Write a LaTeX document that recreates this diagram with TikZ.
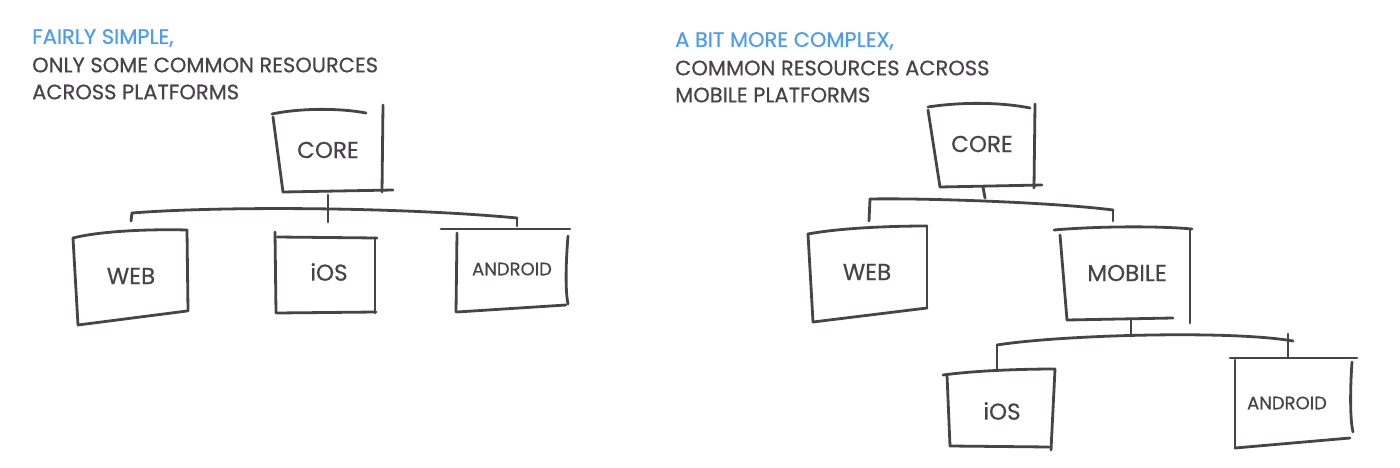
\documentclass[tikz,border=0pt]{standalone}
\usepackage{fontspec}
\setmainfont{Poppins}[FakeBold=0.5]
\definecolor{ink}{HTML}{48434A}
\definecolor{skyblue}{HTML}{4A9DF2}
\begin{document}
\begin{tikzpicture}[x=1pt,y=-1pt,
  pen/.style={draw=ink,line width=2.8pt,line cap=round,line join=round},
  title/.style={anchor=west,text=skyblue,font=\fontsize{21}{24}\selectfont,inner sep=0pt},
  sub/.style={anchor=west,text=ink,font=\fontsize{21}{24}\selectfont,inner sep=0pt},
  lbl/.style={text=ink,font=\fontsize{23}{26}\selectfont,inner sep=0pt,minimum width=90,minimum height=70},
  slbl/.style={text=ink,font=\fontsize{18}{21}\selectfont,inner sep=0pt,minimum width=90,minimum height=70}]
\useasboundingbox (0,0) rectangle (1400,468);

% ---------- left panel texts ----------
\node[title] (t1) at (32,38) {FAIRLY SIMPLE,};
\node[sub] (t2) at (32,65) {ONLY SOME COMMON RESOURCES};
\node[sub] (t3) at (32,92) {ACROSS PLATFORMS};

% ---------- left panel boxes ----------
\node[lbl]  (lcore) at (328,150) {CORE};
\node[lbl]  (lweb)  at (131,276) {WEB};
\node[lbl]  (lios)  at (329,272) {iOS};
\node[slbl] (land)  at (512,269) {ANDROID};

% CORE
\draw[pen] (272,114) .. controls (300,108) and (340,108) .. (366,113);
\draw[pen] (383,105) -- (382,192);
\draw[pen] (273,117) -- (283,192);
\draw[pen] (283,192) -- (393,190);
% WEB
\draw[pen] (73,238) .. controls (100,231) and (150,229) .. (187,230);
\draw[pen] (187,230) -- (188,311);
\draw[pen] (73,238) -- (78,325);
\draw[pen] (78,325) -- (187,311);
% iOS
\draw[pen] (275,232) -- (276,313);
\draw[pen] (277,237) -- (377,238);
\draw[pen] (375,238) -- (375,313);
\draw[pen] (277,313) -- (376,312);
% ANDROID
\draw[pen] (441,229) -- (570,229);
\draw[pen] (457,233) -- (456,312);
\draw[pen] (568,236) .. controls (566,260) and (565,290) .. (568,304);
\draw[pen] (457,312) -- (566,305);

% left connectors
\coordinate (lbusL) at (132,213);
\coordinate (lbusR) at (517,218);
\draw[pen] (lcore.south |- 0,195) -- (lcore.south |- 0,222);
\draw[pen] (lbusL) .. controls (220,206) and (400,207) .. (lbusR);
\draw[pen] (lbusL) -- (lweb.north |- 0,221);
\draw[pen] (lbusR) -- ([xshift=5]land.north |- 0,226);

% ---------- right panel texts ----------
\node[title] (r1) at (675,41) {A BIT MORE COMPLEX,};
\node[sub] (r2) at (675,68) {COMMON RESOURCES ACROSS};
\node[sub] (r3) at (675,95) {MOBILE PLATFORMS};

% ---------- right panel boxes ----------
\node[lbl]  (rcore) at (982,144) {CORE};
\node[lbl]  (rweb)  at (867,272) {WEB};
\node[lbl]  (rmob)  at (1127,273) {MOBILE};
\node[lbl]  (rios)  at (1002,411) {iOS};
\node[slbl] (rand)  at (1287,403) {ANDROID};

% CORE
\draw[pen] (928,107) .. controls (960,102) and (1000,102) .. (1030,108);
\draw[pen] (928,110) -- (940,187);
\draw[pen] (1035,104) -- (1034,188);
\draw[pen] (940,187) -- (1042,185);
% WEB
\draw[pen] (808,234) .. controls (840,228) and (890,226) .. (927,226);
\draw[pen] (808,234) -- (813,322);
\draw[pen] (927,226) -- (927,308);
\draw[pen] (813,322) -- (927,308);
% MOBILE
\draw[pen] (1054,230) .. controls (1100,226) and (1160,226) .. (1192,229);
\draw[pen] (1060,235) -- (1067,320);
\draw[pen] (1190,230) -- (1190,323);
\draw[pen] (1067,320) -- (1173,318);
% iOS
\draw[pen] (943,375) .. controls (980,370) and (1030,369) .. (1055,369);
\draw[pen] (947,375) -- (950,446);
\draw[pen] (1055,369) -- (1051,450);
\draw[pen] (950,446) -- (1049,447);
% ANDROID
\draw[pen] (1230,358) -- (1357,358);
\draw[pen] (1235,360) -- (1235,448);
\draw[pen] (1352,362) .. controls (1350,390) and (1350,420) .. (1353,432);
\draw[pen] (1235,448) -- (1350,438);

% right top connectors
\coordinate (rbusL) at (870,199);
\coordinate (rbusR) at (1113,210);
\draw[pen] (983,187) -- (985,198);
\draw[pen] (rbusL) .. controls (920,198) and (1050,202) .. (rbusR);
\draw[pen] (rbusL) -- (869,221);
\draw[pen] (rbusR) -- (1113,221);

% right lower connectors
\coordinate (mbusL) at (997,345);
\coordinate (mbusR) at (1293,341);
\draw[pen] (1131,320) -- (1131,336);
\draw[pen] (mbusL) .. controls (1060,335) and (1230,330) .. (mbusR);
\draw[pen] (mbusL) -- (997,370);
\draw[pen] (1288,334) -- (1288,357);
\end{tikzpicture}
\end{document}
